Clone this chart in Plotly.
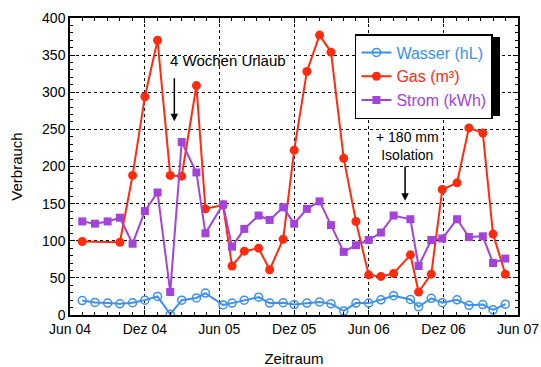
import plotly.graph_objects as go

dates = ["2004-07-01", "2004-08-01", "2004-09-01", "2004-10-01", "2004-11-01", "2004-12-01",
         "2005-01-01", "2005-02-01", "2005-03-01", "2005-04-06", "2005-04-28", "2005-06-10",
         "2005-07-02", "2005-08-01", "2005-09-05", "2005-10-02", "2005-11-04", "2005-12-01",
         "2006-01-01", "2006-02-01", "2006-03-01", "2006-04-01", "2006-05-01", "2006-06-01",
         "2006-07-01", "2006-08-01", "2006-09-11", "2006-10-01", "2006-11-01", "2006-11-28",
         "2007-01-03", "2007-02-01", "2007-03-07", "2007-04-01", "2007-05-01"]

wasser = [19.5, 17, 16, 15, 16.5, 20, 25, 1, 20, 23, 29.5, 13.5,
          16, 20, 24, 16, 16.5, 14, 16, 17.5, 15, 5.5, 16, 16,
          20.5, 26, 21, 11, 22.5, 16.5, 20.5, 13, 14, 7, 14.5]

gas = [99, None, None, 98, 188, 294, 370, 188, 187, 309, 143, 148,
       66, 86, 90, 61, 102, 222, 328, 377, 354, 211, 126, 54,
       52, 56, 81, 31, 55, 169, 178, 252, 245, 109, 55]

strom = [126, 123, 126, 131, 96, 140, 165, 31, 233, 192, 110, 149,
         92, 116, 134, 128, 145, 123, 143, 153, 121, 85, 94, 101,
         111, 134, 129, 66, 101, 103, 129, 105, 106, 70, 76]

tick_vals = ["2004-06-01", "2004-12-01", "2005-06-01", "2005-12-01", "2006-06-01", "2006-12-01", "2007-06-01"]
tick_text = ["Jun 04", "Dez 04", "Jun 05", "Dez 05", "Jun 06", "Dez 06", "Jun 07"]

C_W = "#3b8ff3"
C_G = "#ff2b0f"
C_S = "#a443d9"
FONT = "Arial, Liberation Sans, Helvetica, sans-serif"

fig = go.Figure()
fig.add_trace(go.Scatter(
    x=dates, y=gas, mode="lines+markers", connectgaps=True,
    name=f"<span style='color:{C_G}'>Gas (m³)</span>", legendrank=2,
    line=dict(color=C_G, width=2), marker=dict(symbol="circle", size=9, color=C_G)))
fig.add_trace(go.Scatter(
    x=dates, y=strom, mode="lines+markers",
    name=f"<span style='color:{C_S}'>Strom (kWh)</span>", legendrank=3,
    line=dict(color=C_S, width=2), marker=dict(symbol="square", size=8, color=C_S)))
fig.add_trace(go.Scatter(
    x=dates, y=wasser, mode="lines+markers",
    name=f"<span style='color:{C_W}'>Wasser (hL)</span>", legendrank=1,
    line=dict(color=C_W, width=2),
    marker=dict(symbol="circle-open", size=8, color=C_W, line=dict(width=1.5))))

fig.update_layout(
    width=541, height=367,
    margin=dict(l=70, r=23, t=18, b=52),
    paper_bgcolor="white", plot_bgcolor="white",
    font=dict(family=FONT, size=14, color="black"),
    legend=dict(x=0.636, y=0.946, xanchor="left", yanchor="top",
                bgcolor="white", bordercolor="black", borderwidth=1.5,
                font=dict(size=16), itemwidth=30, tracegroupgap=0),
    xaxis=dict(
        type="date", range=["2004-06-01", "2007-06-01"], automargin=False,
        tickmode="array", tickvals=tick_vals, ticktext=tick_text,
        ticks="inside", ticklen=5, tickcolor="black",
        showline=True, linecolor="black", linewidth=1.5, mirror="allticks",
        showgrid=True, gridcolor="black", griddash="dot", gridwidth=1,
        zeroline=False,
        minor=dict(dtick="M1", tick0="2004-06-01", ticks="inside", ticklen=3,
                   tickcolor="black", showgrid=False),
        title=dict(text="Zeitraum", font=dict(size=15), standoff=18),
    ),
    yaxis=dict(
        range=[0, 400], dtick=50, automargin=False,
        ticks="inside", ticklen=5, tickcolor="black",
        showline=True, linecolor="black", linewidth=1.5, mirror="allticks",
        showgrid=True, gridcolor="black", griddash="dot", gridwidth=1,
        zeroline=False,
        minor=dict(dtick=10, ticks="inside", ticklen=3, tickcolor="black", showgrid=False),
        title=dict(text="Verbrauch", font=dict(size=15), standoff=16),
    ),
    showlegend=True,
)

# legend drop shadow (paper coords derived from pixel layout: plot x 70..518, y 18..315)
def px_x(p):
    return (p - 70) / 448.0

def px_y(p):
    return (315 - p) / 297.0

fig.add_shape(type="rect", xref="paper", yref="paper", layer="above",
              x0=px_x(359), x1=px_x(500), y0=px_y(116), y1=px_y(37),
              fillcolor="black", line=dict(width=0))

fig.add_annotation(x="2005-06-23", y=343, text="4 Wochen Urlaub", showarrow=False,
                   font=dict(size=15))
fig.add_annotation(x="2005-02-11", y=261, ax="2005-02-11", ay=321, axref="x", ayref="y",
                   text="", showarrow=True, arrowhead=2, arrowsize=1, arrowwidth=1.5,
                   arrowcolor="black")
fig.add_annotation(x="2006-09-03", y=228, text="+ 180 mm<br>Isolation", showarrow=False,
                   font=dict(size=14))
fig.add_annotation(x="2006-08-29", y=154, ax="2006-08-29", ay=202, axref="x", ayref="y",
                   text="", showarrow=True, arrowhead=2, arrowsize=1, arrowwidth=1.5,
                   arrowcolor="black")

fig.write_html("out.html")
